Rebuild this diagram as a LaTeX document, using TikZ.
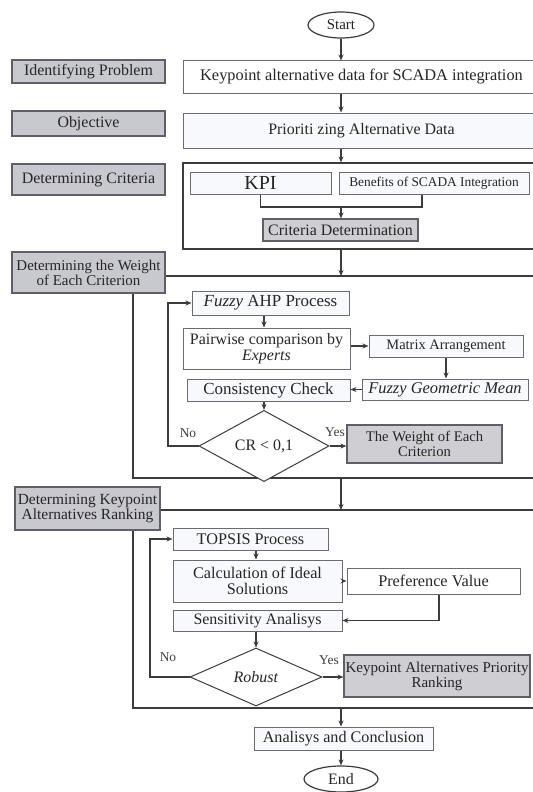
\documentclass[tikz,border=0pt]{standalone}
\usepackage{fontspec}
\setmainfont{Liberation Serif}
\usetikzlibrary{shapes.geometric,arrows.meta}
\definecolor{lab}{RGB}{200,200,207}
\definecolor{resfill}{RGB}{206,206,211}
\definecolor{procfill}{RGB}{247,249,253}
\definecolor{procedge}{RGB}{105,108,118}
\definecolor{lbledge}{RGB}{95,95,105}
\definecolor{lncol}{RGB}{60,60,60}
\newcommand\fs[1]{\fontsize{#1}{#1}\selectfont}
\tikzset{
  base/.style={inner sep=0pt, align=center, text=black!85, font=\fs{16}},
  lbl/.style={base, draw=lbledge, fill=lab, line width=1.4bp, font=\fs{16}},
  proc/.style={base, draw=procedge, fill=procfill, line width=1bp},
  res/.style={base, draw=lbledge, fill=resfill, line width=1.2bp},
  sect/.style={draw=lncol, line width=1.3bp},
  wire/.style={draw=lncol, line width=1.2bp},
  arr/.style={draw=lncol, line width=1.2bp, -{Stealth[length=6bp,width=5bp]}},
  dia/.style={base, shape=diamond, draw=lncol, line width=1bp, fill=white},
  term/.style={base, shape=ellipse, draw=lncol, line width=1.2bp, fill=white},
  yn/.style={inner sep=0pt, text=black!75, font=\fs{13.5}}
}
\begin{document}
\begin{tikzpicture}[x=1bp,y=-1bp]
\useasboundingbox (0,0) rectangle (533,792);
\clip (0,0) rectangle (533,792);
\fill[white] (0,0) rectangle (533,792);

% helper coordinates
\coordinate (R) at (545,0);
\coordinate (wl) at (133,0);
\coordinate (ax) at (264,0);
\coordinate (bs) at (422,0);
\coordinate (lp1) at (168,0);
\coordinate (lp2) at (150,0);
\coordinate (px) at (439,0);
\coordinate (j) at (341,207);
\coordinate (wtop) at (341,276);
\coordinate (wbot) at (341,478);
\coordinate (ktop) at (341,510);
\coordinate (kbot) at (341,708);

% left labels
\node[lbl, minimum width=153bp, minimum height=23bp] (ip) at (88.5,71.5) {Identifying Problem};
\node[lbl, minimum width=153bp, minimum height=25bp] (ob) at (88.5,123.5) {Objective};
\node[lbl, minimum width=153bp, minimum height=31bp] (dc) at (88.5,179.5) {Determining Criteria};
\node[lbl, minimum width=153bp, minimum height=41bp, font=\fs{15}] (dw) at (88.5,272.5) {Determining the Weight\\of Each Criterion};
\node[lbl, minimum width=145bp, minimum height=43bp, font=\fs{15.5}] (dk) at (87.5,508.5) {Determining Keypoint\\Alternatives Ranking};

% top flow
\node[term, minimum width=66bp, minimum height=26bp, font=\fs{15}] (start) at (341,25) {Start};
\node[proc, fill=white, minimum width=357bp, minimum height=32bp, font=\fs{16.4}] (kp) at (361.5,77) {Keypoint alternative data for SCADA integration};
\node[proc, minimum width=357bp, minimum height=35bp] (pr) at (361.5,130.5) {Prioriti zing Alternative Data};
\node[sect, fill=white, minimum width=357bp, minimum height=86bp] (critbox) at (361.5,206) {};
\node[proc, minimum width=141bp, minimum height=22bp, font=\fs{20}] (kpi) at (260.5,183) {KPI};
\node[proc, minimum width=190bp, minimum height=22bp, font=\fs{13.4}] (ben) at (434,183) {Benefits of SCADA Integration};
\node[res, minimum width=155bp, minimum height=22bp] (cd) at (340.5,230) {Criteria Determination};

\draw[arr] (start.south) -- (start.south |- kp.north);
\draw[arr] (kp.south -| start) -- (pr.north -| start);
\draw[arr] (pr.south -| start) -- (critbox.north -| start);
\draw[wire] (kpi.south) -- (kpi.south |- j) -- (j -| bs) -- (bs |- ben.south);
\draw[arr] (j) -- (cd.north -| j);

% weight section frame
\draw[arr] (critbox.south -| wtop) -- (wtop);
\draw[sect] (dw.east |- wtop) -- (wtop -| R);
\draw[sect] (dw.south -| wl) -- (wl |- wbot) -- (wbot -| R);

\node[proc, minimum width=157bp, minimum height=24bp, font=\fs{17}] (fa) at (270.5,303) {\textit{Fuzzy} AHP Process};
\node[proc, fill=white, minimum width=167bp, minimum height=41bp] (pw) at (266.5,348.5) {Pairwise comparison by\\\textit{Experts}};
\node[proc, minimum width=154bp, minimum height=22bp, font=\fs{14.5}] (ma) at (446,346) {Matrix Arrangement};
\node[proc, minimum width=166bp, minimum height=21bp, font=\fs{16.5}] (fg) at (445,389.5) {\textit{Fuzzy Geometric Mean}};
\node[proc, minimum width=163bp, minimum height=22bp, font=\fs{17}] (cc) at (268.5,390) {Consistency Check};
\node[dia, minimum width=130bp, minimum height=60bp] (cr) at (264,446) {CR < 0,1};
\node[res, minimum width=155bp, minimum height=38bp, font=\fs{14.7}] (wt) at (424.5,444) {The Weight of Each\\Criterion};
\node[yn] (no1) at (188,433) {No};
\node[yn] (yes1) at (335,432) {Yes};

\draw[arr] (fa.south -| ax) -- (pw.north -| ax);
\draw[arr] (ma.west -| pw.east) -- (ma.west);
\draw[arr] (ma.south) -- (ma.south |- fg.north);
\draw[arr] (fg.west) -- (fg.west -| cc.east);
\draw[arr] (cc.south -| cr) -- (cr.north);
\draw[arr] (cr.west) -- (cr.west -| lp1) -- (lp1 |- fa.west) -- (fa.west);
\draw[arr] (cr.east) -- (cr.east -| wt.west);

% keypoint section frame
\draw[arr] (wbot) -- (ktop);
\draw[sect] (dk.east |- ktop) -- (ktop -| R);
\draw[sect] (dk.south -| wl) -- (wl |- kbot) -- (kbot -| R);

\node[proc, minimum width=155bp, minimum height=22bp, font=\fs{16.3}] (tp) at (250.5,539) {TOPSIS Process};
\node[proc, minimum width=169bp, minimum height=42bp, font=\fs{16.3}] (ca) at (257.5,581) {Calculation of Ideal\\Solutions};
\node[proc, fill=white, minimum width=173bp, minimum height=26bp, font=\fs{16.3}] (pv) at (433.5,581) {Preference Value};
\node[proc, minimum width=169bp, minimum height=21bp] (se) at (257.5,620.5) {Sensitivity Analisys};
\node[dia, minimum width=132bp, minimum height=58bp] (rb) at (256,677) {\textit{Robust}};
\node[res, minimum width=186bp, minimum height=42bp, font=\fs{15.1}] (kr) at (437,676) {Keypoint Alternatives Priority\\Ranking};
\node[yn] (no2) at (168,657) {No};
\node[yn] (yes2) at (329,660) {Yes};

\draw[arr] (tp.south -| rb) -- (ca.north -| rb);
\draw[arr] (ca.east) -- (ca.east -| pv.west);
\draw[arr] (pv.south -| px) -- (px |- se.east) -- (se.east);
\draw[arr] (se.south -| rb) -- (rb.north);
\draw[arr] (rb.west) -- (rb.west -| lp2) -- (lp2 |- tp.west) -- (tp.west);
\draw[arr] (rb.east) -- (rb.east -| kr.west);

% end
\node[proc, minimum width=179bp, minimum height=23bp, font=\fs{16.2}] (an) at (343.5,738.5) {Analisys and Conclusion};
\node[term, minimum width=74bp, minimum height=26bp] (end) at (341,779) {End};
\draw[arr] (kbot) -- (an.north -| kbot);
\draw[arr] (an.south -| kbot) -- (end.north);
\end{tikzpicture}
\end{document}
